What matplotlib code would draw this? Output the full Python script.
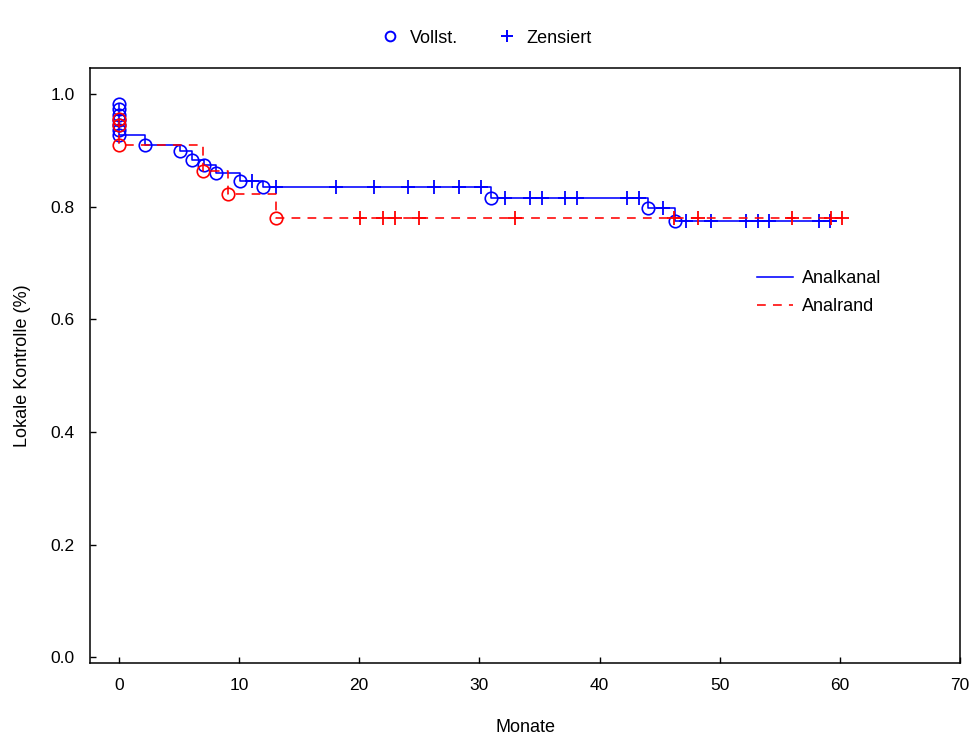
import matplotlib
matplotlib.use("Agg")
import matplotlib.pyplot as plt
import numpy as np
from matplotlib.lines import Line2D

plt.rcParams["font.family"] = ["Liberation Sans", "DejaVu Sans"]

BLUE = "#0000ff"
RED = "#ff0000"

# Analkanal: events at month 0 (survival after each), later events, censored times
kanal_zero_levels = [0.982, 0.973, 0.963, 0.954, 0.945, 0.936, 0.927]
kanal_event_times = [2.2, 5.1, 6.1, 7.1, 8.1, 10.1, 12.0, 31.0, 44.0, 46.3]
kanal_event_levels = [0.909, 0.899, 0.883, 0.874, 0.860, 0.846, 0.834, 0.816, 0.797, 0.775]
kanal_censor_times = [11.1, 13.1, 18.1, 21.2, 24.1, 26.2, 28.3, 30.1, 32.1, 34.2, 35.2,
                      37.1, 38.1, 42.3, 43.3, 45.3, 47.2, 49.3, 52.2, 53.2, 54.1, 58.3, 59.2]
kanal_end = 59.6

# Analrand
rand_zero_levels = [0.955, 0.945, 0.909]
rand_event_times = [7.0, 9.1, 13.1]
rand_event_levels = [0.864, 0.823, 0.780]
rand_censor_times = [20.1, 22.0, 23.0, 25.0, 33.0, 46.2, 48.2, 56.0, 59.3, 60.2]
rand_end = 60.2


def step_curve(zero_levels, event_times, event_levels, end):
    times = [0.0] * len(zero_levels) + list(event_times) + [end]
    levels = list(zero_levels) + list(event_levels) + [event_levels[-1]]
    return np.array(times), np.array(levels)


def level_at(times, levels, t):
    idx = np.searchsorted(times, t, side="right") - 1
    return levels[idx]


fig = plt.figure(figsize=(9.69, 7.35), dpi=100)
ax = fig.add_axes([0.0929, 0.098, 0.8978, 0.8095])

series = [
    (kanal_zero_levels, kanal_event_times, kanal_event_levels, kanal_censor_times,
     kanal_end, BLUE, "-", "Analkanal"),
    (rand_zero_levels, rand_event_times, rand_event_levels, rand_censor_times,
     rand_end, RED, (0, (5.5, 4.5)), "Analrand"),
]

line_handles = []
for zero_lv, ev_t, ev_lv, cens_t, end, color, ls, label in series:
    t, lv = step_curve(zero_lv, ev_t, ev_lv, end)
    (ln,) = ax.step(t, lv, where="post", color=color, linestyle=ls, lw=1.15, label=label)
    line_handles.append(ln)
    ax.plot(t[:-1], lv[:-1], "o", ms=9, mfc="none", mec=color, mew=1.2, ls="none")
    cens_t = np.array(cens_t)
    ax.plot(cens_t, level_at(t, lv, cens_t), "+", ms=9.5, mec=color, mew=1.3, ls="none")

ax.set_xlim(-2.4, 70)
ax.set_ylim(-0.01, 1.046)
ax.set_xticks(np.arange(0, 71, 10))
ax.set_yticks(np.arange(0, 1.01, 0.2))
ax.yaxis.set_major_formatter(plt.FuncFormatter(lambda v, _: f"{v:.1f}"))
ax.tick_params(direction="in", length=4, width=1, labelsize=12.5)
ax.tick_params(axis="x", pad=11)
ax.tick_params(axis="y", pad=11)
for sp in ax.spines.values():
    sp.set_linewidth(1.1)

ax.set_xlabel("Monate", fontsize=13)
ax.set_ylabel("Lokale Kontrolle (%)", fontsize=13)
ax.xaxis.set_label_coords(0.5, -0.095)
ax.yaxis.set_label_coords(-0.068, 0.5)

ax.legend(handles=line_handles, loc="upper left", bbox_to_anchor=(0.756, 0.675),
          frameon=False, fontsize=13, handlelength=2.0, handletextpad=0.5,
          labelspacing=0.6, borderpad=0)

marker_handles = [
    Line2D([], [], marker="o", ls="none", mfc="none", mec=BLUE, mew=1.4, ms=7, label="Vollst."),
    Line2D([], [], marker="+", ls="none", mec=BLUE, mew=1.4, ms=8.5, label="Zensiert"),
]
fig.legend(handles=marker_handles, loc="center", bbox_to_anchor=(0.502, 0.948), ncol=2,
           frameon=False, fontsize=13, handlelength=1.0, handletextpad=0.6,
           columnspacing=2.2)

fig.savefig("out.png", dpi=100)
